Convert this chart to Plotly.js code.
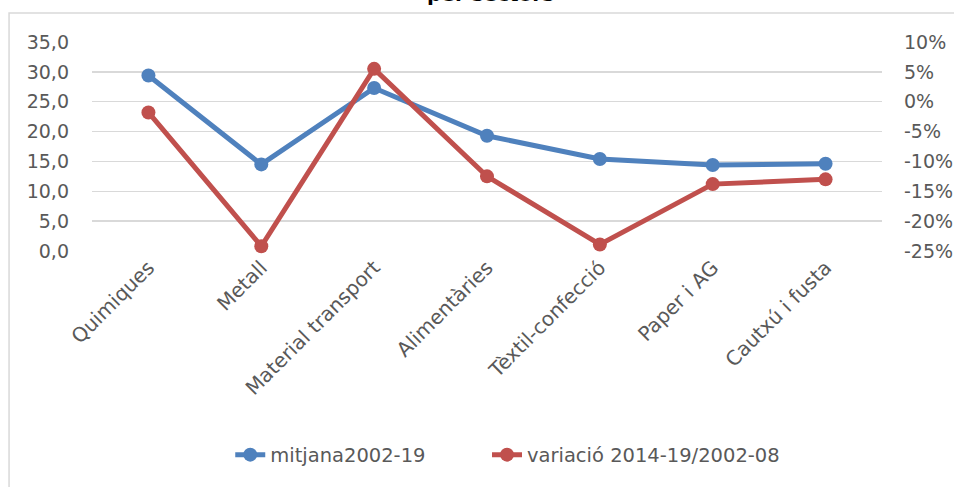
<!DOCTYPE html>
<html>
<head>
<meta charset="utf-8">
<script src="https://cdn.plot.ly/plotly-3.0.1.min.js"></script>
<style>
  html, body { margin: 0; padding: 0; background: #ffffff; }
  #chart { width: 954px; height: 487px; }
</style>
</head>
<body>
<div id="chart"></div>
<script>
const categories = ["Quimiques", "Metall", "Material transport", "Alimentàries", "Tèxtil-confecció", "Paper i AG", "Cautxú i fusta"];
const mitjana = [29.4, 14.5, 27.3, 19.3, 15.4, 14.4, 14.6];
const variacio = [-0.018, -0.242, 0.055, -0.125, -0.239, -0.138, -0.130];
const seriesNames = ["mitjana2002-19", "variació 2014-19/2002-08"];
const leftTickVals = [0, 5, 10, 15, 20, 25, 30, 35];
const leftTickText = ["0,0", "5,0", "10,0", "15,0", "20,0", "25,0", "30,0", "35,0"];
const rightTickVals = [-0.25, -0.20, -0.15, -0.10, -0.05, 0, 0.05, 0.10];
const rightTickText = ["-25%", "-20%", "-15%", "-10%", "-5%", "0%", "5%", "10%"];
const titleText = "per sectors";

const blue = "#4F81BD";
const red = "#C0504D";
const tickFont = { family: "DejaVu Sans", size: 19, color: "#595959" };
const catFont = { family: "DejaVu Sans", size: 20, color: "#595959" };
const legFont = { family: "DejaVu Sans", size: 19.5, color: "#595959" };

const traces = [
  {
    x: categories, y: mitjana, name: seriesNames[0], type: "scatter", mode: "lines+markers",
    line: { color: blue, width: 5 }, marker: { color: blue, size: 14 }, yaxis: "y", cliponaxis: false,
    legend: "legend"
  },
  {
    x: categories, y: variacio, name: seriesNames[1], type: "scatter", mode: "lines+markers",
    line: { color: red, width: 5 }, marker: { color: red, size: 14 }, yaxis: "y2", cliponaxis: false,
    legend: "legend2"
  }
];

const layout = {
  width: 954, height: 487,
  margin: { l: 92, r: 72, t: 42, b: 236 },
  paper_bgcolor: "#ffffff", plot_bgcolor: "#ffffff",
  font: tickFont,
  showlegend: true,
  legend: {
    orientation: "h", x: 0.175, xanchor: "left", y: -0.976, yanchor: "middle",
    font: legFont, itemwidth: 30, bgcolor: "rgba(0,0,0,0)"
  },
  legend2: {
    orientation: "h", x: 0.5, xanchor: "left", y: -0.976, yanchor: "middle",
    font: legFont, itemwidth: 30, bgcolor: "rgba(0,0,0,0)"
  },
  xaxis: {
    type: "category", range: [-0.5, 6.5], tickangle: -45, showgrid: false, zeroline: false,
    showline: false, ticks: "", tickfont: catFont, fixedrange: true
  },
  yaxis: {
    range: [0, 35], tickvals: leftTickVals, ticktext: leftTickText, showgrid: true,
    gridcolor: "#D9D9D9", gridwidth: 1.5, zeroline: false, showline: false, ticks: "",
    tickfont: tickFont, ticklabelstandoff: 22
  },
  yaxis2: {
    range: [-0.25, 0.10], overlaying: "y", side: "right", tickvals: rightTickVals, ticktext: rightTickText,
    showgrid: false, zeroline: false, showline: false, ticks: "", tickfont: tickFont, ticklabelstandoff: 21
  },
  shapes: [
    { type: "rect", xref: "paper", yref: "paper", x0: -0.105, x1: 1.2, y0: -1.5, y1: 1.139,
      line: { color: "#D9D9D9", width: 1.5 }, fillcolor: "rgba(0,0,0,0)", layer: "below" }
  ],
  annotations: [
    { text: "<b>" + titleText + "</b>", xref: "paper", yref: "paper", x: 0.504, y: 1.163,
      xanchor: "center", yanchor: "bottom", showarrow: false,
      font: { family: "DejaVu Sans", size: 20, color: "#000000" } }
  ]
};

Plotly.newPlot("chart", traces, layout, { displayModeBar: false, staticPlot: true });
</script>
</body>
</html>
